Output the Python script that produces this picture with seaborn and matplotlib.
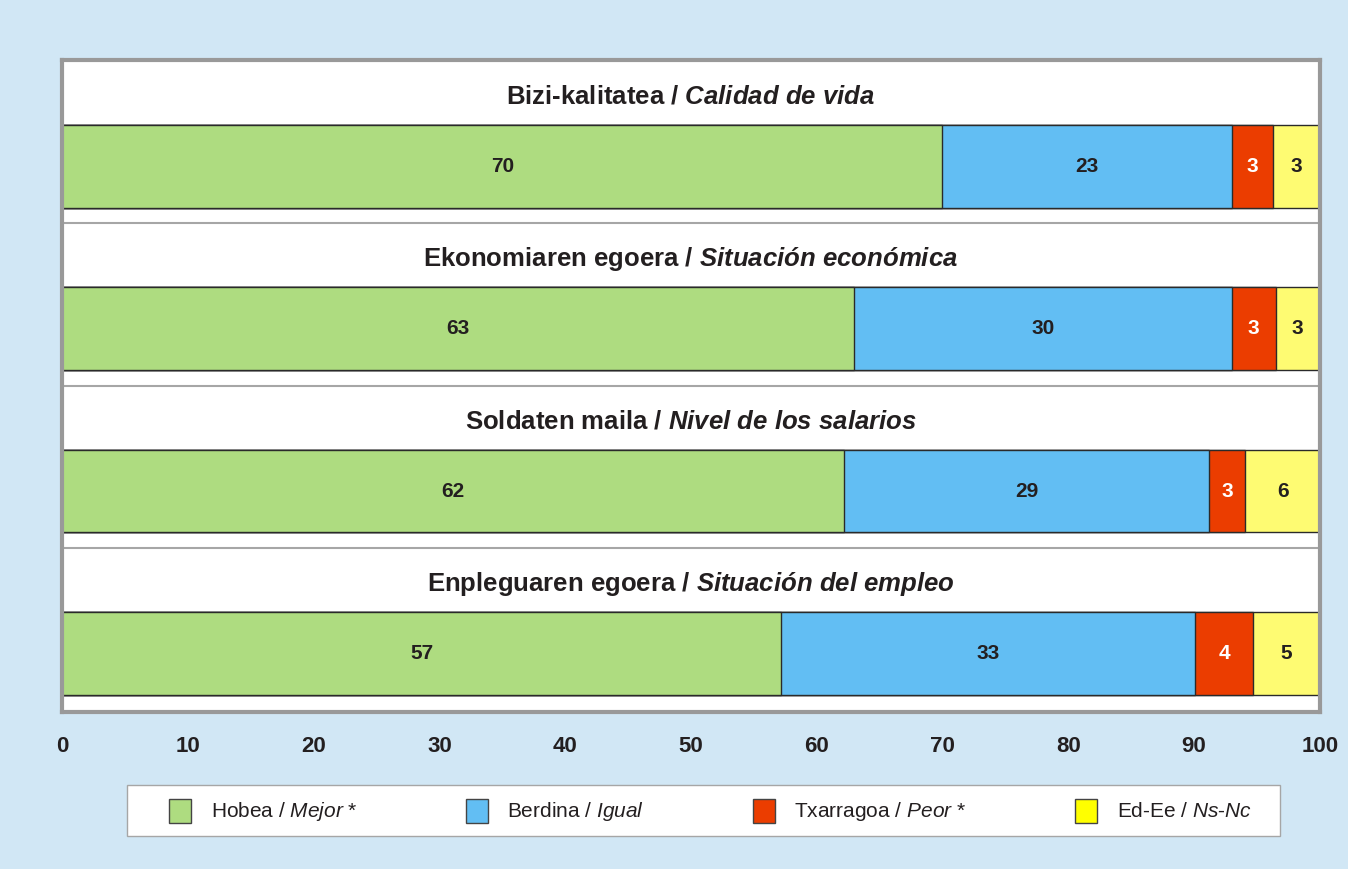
import numpy as np
import pandas as pd
import matplotlib.pyplot as plt
from matplotlib.patches import Patch, Rectangle
import seaborn as sns

# --- DATOS ---
categorias = ["Bizi-kalitatea", "Ekonomiaren egoera", "Soldaten maila", "Enpleguaren egoera"]
titulos = [
    r"Bizi-kalitatea / $\mathbfit{Calidad\ de\ vida}$",
    r"Ekonomiaren egoera / $\mathbfit{Situación\ económica}$",
    r"Soldaten maila / $\mathbfit{Nivel\ de\ los\ salarios}$",
    r"Enpleguaren egoera / $\mathbfit{Situación\ del\ empleo}$",
]
hobea = [70.0, 63.0, 62.2, 57.2]
berdina = [23.0, 30.0, 29.0, 32.9]
txarragoa = [3.3, 3.5, 2.9, 4.6]
ed_ee = [3.7, 3.5, 5.9, 5.3]

# etiquetas tal como aparecen en el gráfico
lbl_hobea = ["70", "63", "62", "57"]
lbl_berdina = ["23", "30", "29", "33"]
lbl_txarragoa = ["3", "3", "3", "4"]
lbl_ed_ee = ["3", "3", "6", "5"]

legend_labels = [r"Hobea / $\mathit{Mejor}$ *", r"Berdina / $\mathit{Igual}$",
                 r"Txarragoa / $\mathit{Peor}$ *", r"Ed-Ee / $\mathit{Ns}$-$\mathit{Nc}$"]

colores = ["#AEDC80", "#62BEF3", "#EB3D00", "#FEFB72"]
colores_leyenda = ["#AEDC80", "#62BEF3", "#EB3D00", "#FFFF00"]
texto_col = ["#231F20", "#231F20", "white", "#231F20"]

# --- ESTILO ---
sns.set_style("white")
plt.rcParams['font.family'] = ['Liberation Sans', 'DejaVu Sans']
plt.rcParams['mathtext.fontset'] = 'custom'
plt.rcParams['mathtext.rm'] = 'Liberation Sans'
plt.rcParams['mathtext.it'] = 'Liberation Sans:italic'
plt.rcParams['mathtext.bf'] = 'Liberation Sans:bold'
plt.rcParams['mathtext.bfit'] = 'Liberation Sans:italic:bold'

fig = plt.figure(figsize=(13.48, 8.69), dpi=100)
fig.patch.set_facecolor("#D1E7F5")
ax = fig.add_axes([0.046, 0.1807, 0.933, 0.7503])
ax.set_facecolor("white")

series = [hobea, berdina, txarragoa, ed_ee]
acum = np.cumsum(np.array(series), axis=0)

# barras apiladas: se dibuja del total hacia atrás
for k in range(3, -1, -1):
    df = pd.DataFrame({"cat": categorias, "val": acum[k]})
    sns.barplot(data=df, x="val", y="cat", orient="h", color=colores[k], saturation=1,
                width=0.51, edgecolor="#2A2A2A", linewidth=1, ax=ax)

# etiquetas de valor
etiquetas = [lbl_hobea, lbl_berdina, lbl_txarragoa, lbl_ed_ee]
for k in range(4):
    inicio = acum[k] - np.array(series[k])
    for i in range(len(categorias)):
        centro = inicio[i] + series[k][i] / 2
        ax.text(centro, i, etiquetas[k][i], ha="center", va="center",
                fontsize=15, fontweight="bold", color=texto_col[k])

# títulos de cada fila y separadores
for i, t in enumerate(titulos):
    ax.text(50, i - 0.43, t, ha="center", va="center", fontsize=18.5,
            fontweight="bold", color="#231F20")
    if i < len(titulos) - 1:
        ax.axhline(i + 0.35, color="#A6A6A6", linewidth=1.5, zorder=0)

ax.set_xlim(0, 100)
ax.set_ylim(3.361, -0.656)
ax.set_xticks(range(0, 101, 10))
ax.set_xticklabels([str(v) for v in range(0, 101, 10)], fontsize=16, fontweight="bold",
                   color="#231F20")
ax.tick_params(axis="x", length=0, pad=17)
ax.set_yticks([])
ax.set_xlabel("")
ax.set_ylabel("")
for s in ax.spines.values():
    s.set_color("#999999")
    s.set_linewidth(3)

# caja de la leyenda
fig.add_artist(Rectangle((127 / 1348, 1 - 836 / 869), 1153 / 1348, 51 / 869,
                         transform=fig.transFigure, facecolor="white",
                         edgecolor="#A6A6A6", linewidth=1))

handles = [Patch(facecolor=c, edgecolor="#444444", linewidth=1) for c in colores_leyenda]
leg = fig.legend(handles, legend_labels, ncol=4, loc="center",
                 bbox_to_anchor=(0.527, 1 - 811 / 869), frameon=False,
                 prop={"size": 15}, handlelength=1.05,
                 handleheight=1.4, handletextpad=0.95, columnspacing=5.2)
for t in leg.get_texts():
    t.set_color("#231F20")

plt.savefig("out.png", dpi=100, facecolor=fig.get_facecolor())
